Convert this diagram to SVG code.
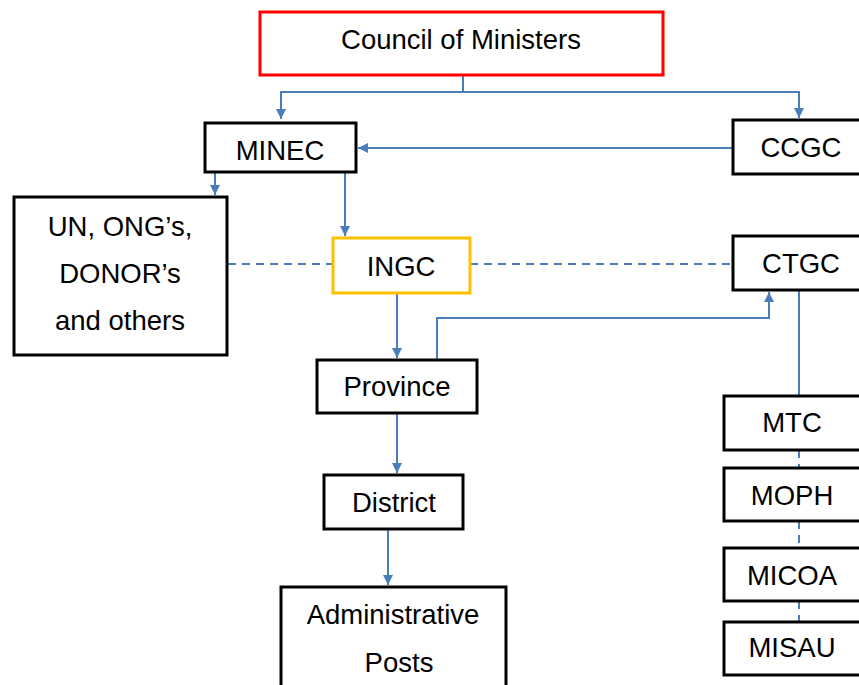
<svg xmlns="http://www.w3.org/2000/svg" width="859" height="685" viewBox="0 0 859 685">
<defs>
<style>
.box{fill:#fff;stroke:#000;stroke-width:3}
.t{font-family:"Liberation Sans",Arial,sans-serif;font-size:27.5px;fill:#000;text-anchor:middle}
.c{fill:none;stroke:#4A7EBB;stroke-width:2}
.d{fill:none;stroke:#4A7EBB;stroke-width:2;stroke-dasharray:8 6}
</style>
<marker id="ah" viewBox="0 0 10 10" refX="10" refY="5" markerWidth="5" markerHeight="5" orient="auto" markerUnits="strokeWidth">
<path d="M0,0 L10,5 L0,10 Z" fill="#4A7EBB"/>
</marker>
</defs>
<rect width="859" height="685" fill="#fff"/>
<g id="connectors">
<path class="c" d="M463,75 V92 H281 V119" marker-end="url(#ah)"/>
<path class="c" d="M463,92 H799 V118" marker-end="url(#ah)"/>
<path class="c" d="M733,148 H358" marker-end="url(#ah)"/>
<path class="c" d="M215,172 V195" marker-end="url(#ah)"/>
<path class="c" d="M345,172 V236" marker-end="url(#ah)"/>
<path class="d" d="M228,264 H333"/>
<path class="d" d="M470,264 H733"/>
<path class="c" d="M397,293 V358" marker-end="url(#ah)"/>
<path class="c" d="M437,360 V318 H769 V292" marker-end="url(#ah)"/>
<path class="c" d="M799,290 V396"/>
<path class="d" d="M799,450 V468"/>
<path class="d" d="M799,521 V548"/>
<path class="d" d="M799,601 V622"/>
<path class="c" d="M397,413 V473" marker-end="url(#ah)"/>
<path class="c" d="M388,529 V585" marker-end="url(#ah)"/>
</g>
<g id="council"><rect x="260" y="12" width="403" height="63" fill="#fff" stroke="#FF0000" stroke-width="3"/><text class="t" x="461" y="49">Council of Ministers</text></g>
<g id="minec"><rect class="box" x="205" y="123" width="151" height="49"/><text class="t" x="280" y="160">MINEC</text></g>
<g id="ccgc"><rect class="box" x="733" y="120" width="130" height="54"/><text class="t" x="801" y="157">CCGC</text></g>
<g id="un"><rect class="box" x="14" y="197" width="213" height="158"/><text class="t" x="120" y="236">UN, ONG’s,</text><text class="t" x="120" y="283">DONOR’s</text><text class="t" x="120" y="330">and others</text></g>
<g id="ingc"><rect x="333" y="238" width="137" height="55" fill="#fff" stroke="#FFC000" stroke-width="3"/><text class="t" x="401" y="276">INGC</text></g>
<g id="ctgc"><rect class="box" x="733" y="236" width="130" height="54"/><text class="t" x="801" y="273">CTGC</text></g>
<g id="province"><rect class="box" x="317" y="360" width="160" height="53"/><text class="t" x="397" y="396">Province</text></g>
<g id="district"><rect class="box" x="324" y="475" width="139" height="54"/><text class="t" x="394" y="512">District</text></g>
<g id="admin"><rect class="box" x="281" y="587" width="225" height="110"/><text class="t" x="393" y="624">Administrative</text><text class="t" x="399" y="672">Posts</text></g>
<g id="mtc"><rect class="box" x="724" y="396" width="140" height="54"/><text class="t" x="792" y="432">MTC</text></g>
<g id="moph"><rect class="box" x="724" y="468" width="140" height="53"/><text class="t" x="792" y="505">MOPH</text></g>
<g id="micoa"><rect class="box" x="724" y="548" width="140" height="53"/><text class="t" x="792" y="585">MICOA</text></g>
<g id="misau"><rect class="box" x="724" y="622" width="140" height="53"/><text class="t" x="792" y="657">MISAU</text></g>
</svg>
